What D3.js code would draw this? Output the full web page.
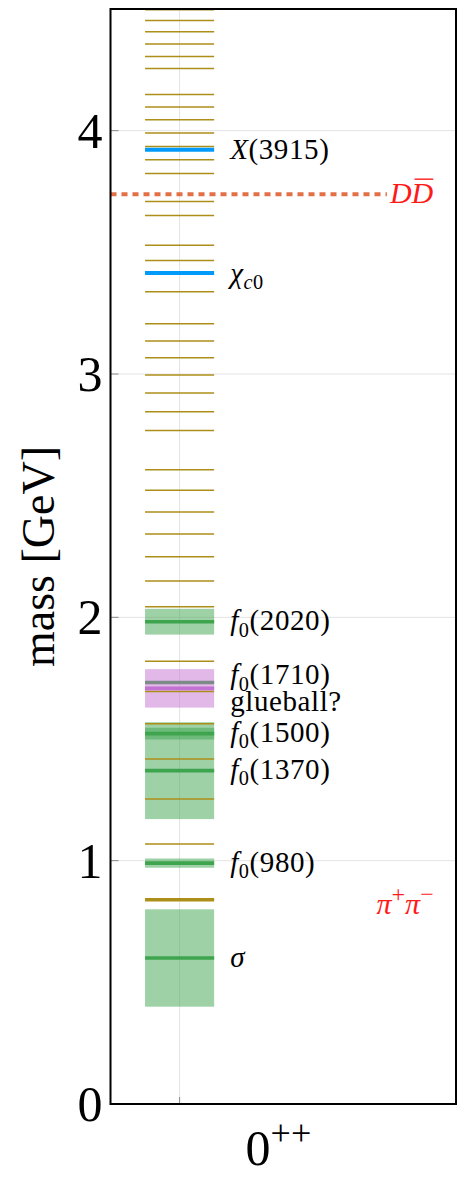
<!DOCTYPE html>
<html>
<head>
<meta charset="utf-8">
<script src="https://cdn.jsdelivr.net/npm/d3@7"></script>
<style>
	body { margin: 0; background: #fff; }
	svg { display: block; font-family: "Liberation Serif", "DejaVu Serif", serif; }
</style>
</head>
<body>
<svg id="chart" width="466" height="1182"></svg>
<script>
// tower of states (GeV)
const towerLevels = [4.497, 4.453, 4.406, 4.356, 4.305, 4.255, 4.149, 4.097, 4.045, 3.990,
	3.935, 3.880, 3.824, 3.709, 3.651, 3.529, 3.466, 3.338, 3.206, 3.136, 3.067, 2.996,
	2.922, 2.845, 2.768, 2.607, 2.522, 2.433, 2.342, 2.249, 2.149, 2.044, 1.820, 1.695,
	1.563, 1.418, 1.253, 1.068];
const heavyLevels = [0.839];

// light scalars: mass and half width
const lightNames = ['σ', 'f0(980)', 'f0(1370)', 'f0(1500)', 'f0(2020)'];
const lightMasses = [0.600, 0.990, 1.370, 1.522, 1.982];
const lightHalfWidths = [0.200, 0.019, 0.199, 0.024, 0.053];

const glueballMass = 1.708;
const glueballHalfWidth = 0.079;
const f1710Mass = 1.732;

const charmNames = ['χc0', 'X(3915)'];
const charmMasses = [3.4147, 3.9217];

const ddThreshold = 3.739;
const pipiLabelMass = 0.818;

const yTicks = [0, 1, 2, 3, 4];
const category = '0++';

// where labels sit (GeV)
const labelMasses = {
	'X(3915)': 3.92, 'χc0': 3.41, 'f0(2020)': 1.982, 'f0(1710)': 1.760,
	'glueball?': 1.652, 'f0(1500)': 1.525, 'f0(1370)': 1.373, 'f0(980)': 0.99, 'σ': 0.60
};
const labelParts = {
	'X(3915)': [{ t: 'X', i: 1 }, { t: '(3915)' }],
	'χc0': [{ t: 'χ', i: 1 }, { t: 'c', i: 1, sub: 1 }, { t: '0', sub: 1 }],
	'f0(2020)': [{ t: 'f', i: 1 }, { t: '0', sub: 1 }, { t: '(2020)' }],
	'f0(1710)': [{ t: 'f', i: 1 }, { t: '0', sub: 1 }, { t: '(1710)' }],
	'glueball?': [{ t: 'glueball?' }],
	'f0(1500)': [{ t: 'f', i: 1 }, { t: '0', sub: 1 }, { t: '(1500)' }],
	'f0(1370)': [{ t: 'f', i: 1 }, { t: '0', sub: 1 }, { t: '(1370)' }],
	'f0(980)': [{ t: 'f', i: 1 }, { t: '0', sub: 1 }, { t: '(980)' }],
	'σ': [{ t: 'σ', i: 1 }]
};

const colors = {
	tower: '#AC8E18', blue: '#009AFA', green: '#3EA44E',
	pink: '#C371D2', gray: '#7e8a88', dd: '#E36F47', red: '#ff1a1a'
};

let margin = { top: 9, right: 10, bottom: 78, left: 110.5 };
let svg = d3.select('svg#chart');
let W = +svg.attr('width'), H = +svg.attr('height');
let y = d3.scaleLinear([0, 4.5], [H - margin.bottom, margin.top]);
let x = d3.scaleLinear([0, 5], [margin.left, W - margin.right]);
let xc = 1; // category position

let g = svg.append('g');

// grid
g.append('g').selectAll('line.gy')
	.data(yTicks.filter(d => d > 0))
	.join('line')
	.attr('x1', x(0)).attr('x2', x(5))
	.attr('y1', d => y(d)).attr('y2', d => y(d))
	.attr('stroke', '#e3e3e3').attr('stroke-width', 1);
g.append('line')
	.attr('x1', x(xc)).attr('x2', x(xc))
	.attr('y1', y(0)).attr('y2', y(4.5))
	.attr('stroke', '#e3e3e3').attr('stroke-width', 1);

// ticks inside the frame
g.append('g').selectAll('line.ty')
	.data(yTicks)
	.join('line')
	.attr('x1', x(0)).attr('x2', x(0) + 8)
	.attr('y1', d => y(d)).attr('y2', d => y(d))
	.attr('stroke', '#8a8a8a').attr('stroke-width', 1);
g.append('line')
	.attr('x1', x(xc)).attr('x2', x(xc))
	.attr('y1', y(0)).attr('y2', y(0) - 7)
	.attr('stroke', '#8a8a8a').attr('stroke-width', 1);

// bands
let x0 = x(xc - 0.5), bw = x(xc + 0.5) - x(xc - 0.5);
g.append('g').selectAll('rect.band')
	.data(lightMasses.map((m, i) => [m, lightHalfWidths[i]]))
	.join('rect')
	.attr('x', x0).attr('width', bw)
	.attr('y', d => y(d[0] + d[1]))
	.attr('height', d => y(d[0] - d[1]) - y(d[0] + d[1]))
	.attr('fill', colors.green).attr('fill-opacity', 0.5);
g.append('rect')
	.attr('x', x0).attr('width', bw)
	.attr('y', y(glueballMass + glueballHalfWidth))
	.attr('height', y(glueballMass - glueballHalfWidth) - y(glueballMass + glueballHalfWidth))
	.attr('fill', colors.pink).attr('fill-opacity', 0.5);

// level lines
function levels(data, color, width) {
	g.append('g').selectAll('line')
		.data(data)
		.join('line')
		.attr('x1', x0).attr('x2', x0 + bw)
		.attr('y1', d => y(d)).attr('y2', d => y(d))
		.attr('stroke', color).attr('stroke-width', width);
}
levels(towerLevels, colors.tower, 1.5);
levels(heavyLevels, colors.tower, 3.5);
levels(lightMasses, colors.green, 3.6);
levels([f1710Mass], colors.gray, 3.6);
levels([glueballMass], colors.pink, 3.6);
levels(charmMasses, colors.blue, 4);

// DD threshold
g.append('line')
	.attr('x1', x(0)).attr('x2', x(4))
	.attr('y1', y(ddThreshold)).attr('y2', y(ddThreshold))
	.attr('stroke', colors.dd).attr('stroke-width', 4)
	.attr('stroke-dasharray', '6,5');

// rich text helper
function richText(px, py, parts, fs, color, subScale) {
	subScale = subScale || 0.7;
	let t = g.append('text').attr('x', px).attr('y', py)
		.attr('font-size', fs).attr('fill', color);
	let shift = 0;
	parts.forEach(p => {
		let target = p.sub ? fs * 0.22 : (p.sup ? -fs * 0.4 : 0);
		let ts = t.append('tspan').text(p.t).attr('dy', target - shift);
		shift = target;
		if (p.i) ts.attr('font-style', 'italic');
		if (p.sub || p.sup) ts.attr('font-size', fs * subScale);
	});
	return t;
}

let fs = 29;
Object.keys(labelMasses).forEach(k => {
	richText(x0 + bw + 16, y(labelMasses[k]) + fs * 0.3, labelParts[k], fs, '#000')
		.attr('letter-spacing', 0.6);
});

// threshold labels
let dd = richText(x(4) + 3, y(ddThreshold) + 9,
	[{ t: 'D', i: 1 }, { t: 'D', i: 1 }], 30, colors.red);
let ext = dd.node().getExtentOfChar(1);
let ext0 = dd.node().getExtentOfChar(0);
g.append('line')
	.attr('x1', ext.x + 3).attr('x2', ext.x + ext.width)
	.attr('y1', ext0.y + 3).attr('y2', ext0.y + 3)
	.attr('stroke', colors.red).attr('stroke-width', 1.4);
richText(x(3.85), y(pipiLabelMass) + 9,
	[{ t: 'π', i: 1 }, { t: '+', sup: 1 }, { t: 'π', i: 1 }, { t: '−', sup: 1 }], 30, colors.red, 0.8);

// frame
g.append('rect')
	.attr('x', x(0)).attr('y', y(4.5))
	.attr('width', x(5) - x(0)).attr('height', y(0) - y(4.5))
	.attr('fill', 'none').attr('stroke', '#000').attr('stroke-width', 2);

// y tick labels
g.append('g').selectAll('text.yl')
	.data(yTicks)
	.join('text')
	.attr('x', x(0) - 8).attr('y', d => y(d))
	.attr('dy', '0.34em')
	.attr('text-anchor', 'end')
	.attr('font-size', 50)
	.text(d => d);

// axis titles
g.append('text')
	.attr('transform', `translate(54, ${(y(0) + y(4.5)) / 2}) rotate(-90)`)
	.attr('text-anchor', 'middle')
	.attr('font-size', 46)
	.text('mass [GeV]');

let xl = g.append('text')
	.attr('x', x(xc) + 66).attr('y', 1165)
	.attr('font-size', 50);
xl.append('tspan').text(category.slice(0, 1));
xl.append('tspan').text(category.slice(1)).attr('font-size', 36).attr('dy', -20);
</script>
</body>
</html>
